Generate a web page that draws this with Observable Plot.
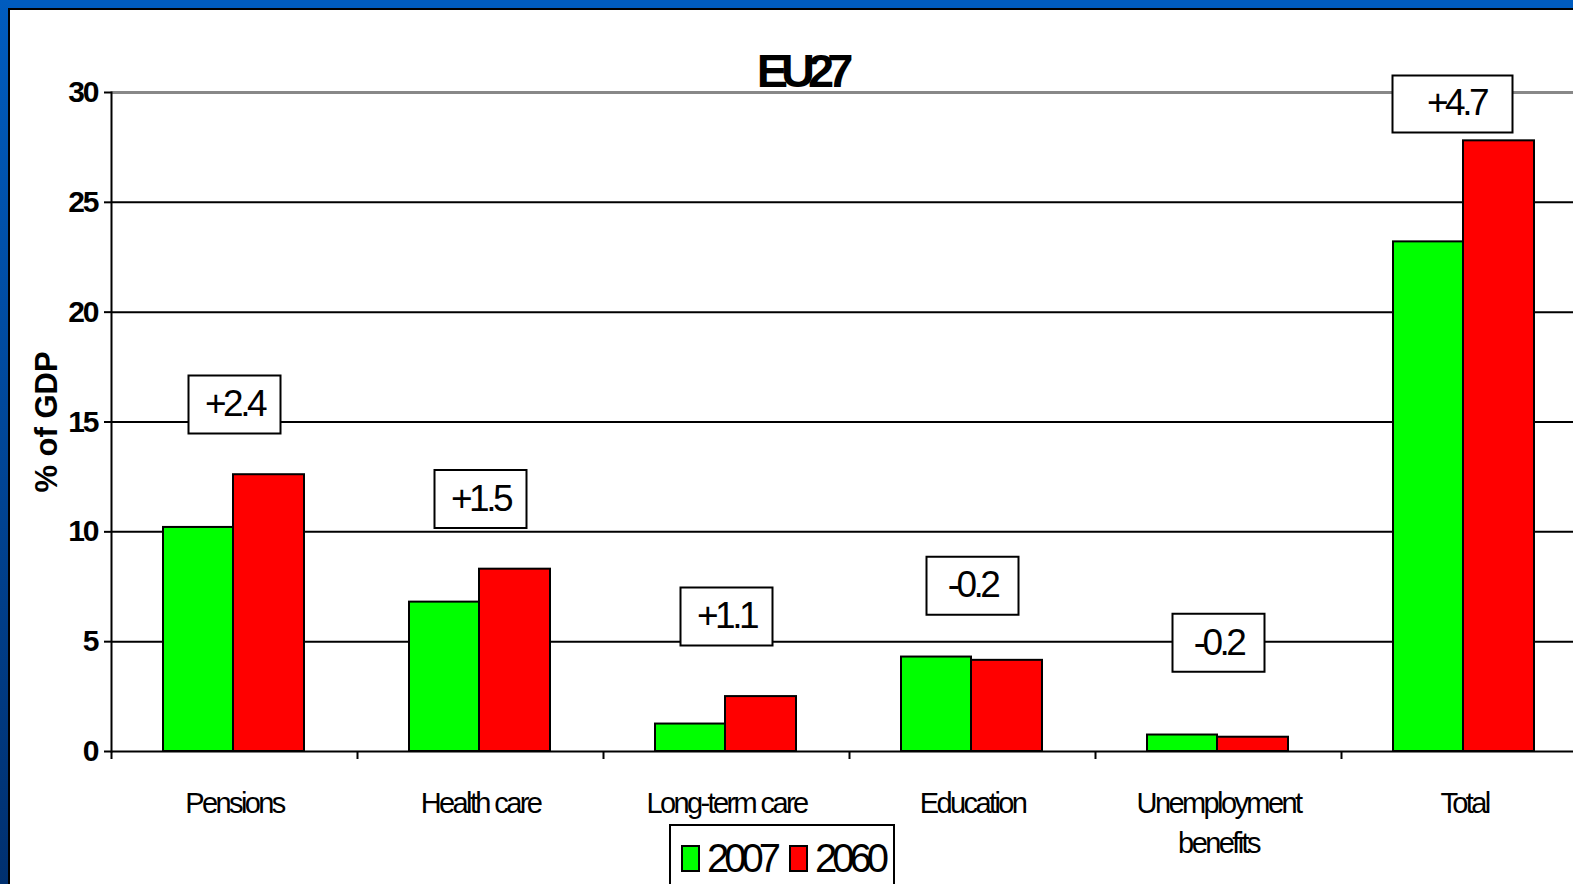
<!DOCTYPE html>
<html>
<head>
<meta charset="utf-8">
<script src="https://cdn.jsdelivr.net/npm/d3@7"></script>
<script src="https://cdn.jsdelivr.net/npm/@observablehq/plot@0.6"></script>
<style>
  html, body { margin: 0; padding: 0; overflow: hidden; background: #fff; }
  #wrap { position: relative; width: 1573px; height: 884px; overflow: hidden; font-family: "Liberation Sans", Arial, sans-serif; }
  #chart { position: absolute; left: 0; top: 0; }
  .bar-top { position: absolute; left: 0; top: 0; width: 1573px; height: 8px; background: #005cbf; z-index: 5; }
  .bar-left { position: absolute; left: 0; top: 0; width: 8px; height: 884px; background: linear-gradient(#005cbf, #003070); z-index: 5; }
  .line-top { position: absolute; left: 8px; top: 8px; width: 1565px; height: 2px; background: #000; z-index: 5; }
  .line-left { position: absolute; left: 8px; top: 8px; width: 2px; height: 876px; background: #000; z-index: 5; }
  g[aria-label="x-axis tick label"] text { letter-spacing: -2.6px; }
  g[aria-label="y-axis tick label"] text { letter-spacing: -2px; }
  g[font-size="37"] text { letter-spacing: -3.5px; }
  g[font-size="47"] text { letter-spacing: -7px; }
  #legend { position: absolute; left: 669px; top: 824px; width: 226px; height: 80px; border: 2px solid #000; background: #fff; padding: 10px 0 0 11px; box-sizing: border-box; z-index: 4; }
  #legend .lg-swatches { font-family: "Liberation Sans", Arial, sans-serif !important; font-size: 40px !important; letter-spacing: -5px; min-height: 0 !important; margin: 0 !important; display: flex !important; flex-wrap: nowrap !important; white-space: nowrap; align-items: center; }
  #legend .lg-swatch { margin-right: 14px !important; display: inline-flex; align-items: center; white-space: nowrap; }
  #legend .lg-swatch > svg { margin-right: 8px !important; overflow: visible; }
  #legend .lg-swatch > svg rect { stroke: #000; stroke-width: 2px; }
</style>
</head>
<body>
<div id="wrap">
  <div id="chart"></div>
  <div id="legend"></div>
  <div class="bar-top"></div>
  <div class="bar-left"></div>
  <div class="line-top"></div>
  <div class="line-left"></div>
</div>
<script>
const title = "EU27";
const categories = ["Pensions", "Health care", "Long-term care", "Education", "Unemployment benefits", "Total"];
const years = ["2007", "2060"];
const colors = ["#00ff00", "#ff0000"];
const values2007 = [10.2, 6.8, 1.25, 4.3, 0.75, 23.2];
const values2060 = [12.6, 8.3, 2.5, 4.15, 0.65, 27.8];
const changeLabels = ["+2.4", "+1.5", "+1.1", "-0.2", "-0.2", "+4.7"];
const changeLabelY = [15.8, 11.5, 6.15, 7.55, 4.95, 29.5];
const yTicks = [0, 5, 10, 15, 20, 25, 30];
const yLabel = "% of GDP";

const rows2007 = categories.map((c, i) => ({category: c, year: years[0], value: values2007[i]}));
const rows2060 = categories.map((c, i) => ({category: c, year: years[1], value: values2060[i]}));
const notes = categories.map((c, i) => ({category: c, label: changeLabels[i], y: changeLabelY[i]}));
const isTotal = d => d.category === "Total";

const boxSymbol = { draw(ctx) { ctx.rect(-46, -29, 92, 58); } };
const wideBoxSymbol = { draw(ctx) { ctx.rect(-60, -28, 120, 57); } };

const W = 1573, H = 884, mT = 92, mB = 133, mL = 111;
const plotH = H - mT - mB;

const chart = Plot.plot({
  width: W,
  height: H,
  marginTop: mT,
  marginBottom: mB,
  marginLeft: mL,
  marginRight: 0,
  style: { background: "transparent", fontFamily: "'Liberation Sans', Arial, sans-serif", color: "#000" },
  x: { domain: categories, range: [111, 1587], padding: 0 },
  y: { domain: [0, 30] },
  color: { domain: years, range: colors },
  marks: [
    Plot.ruleY(yTicks.filter(d => d > 0 && d < 30), { stroke: "#000", strokeWidth: 2 }),
    Plot.ruleY([30], { stroke: "#888", strokeWidth: 3 }),
    Plot.barY(rows2007, { x: "category", y: "value", fill: "year", stroke: "#000", strokeWidth: 2, insetLeft: 52, insetRight: 124 }),
    Plot.barY(rows2060, { x: "category", y: "value", fill: "year", stroke: "#000", strokeWidth: 2, insetLeft: 122, insetRight: 53 }),
    Plot.ruleY([0], { stroke: "#000", strokeWidth: 2 }),
    Plot.frame({ anchor: "left", stroke: "#000", strokeWidth: 2 }),
    Plot.ruleX(categories, { x: d => d, dx: -123, insetTop: plotH, insetBottom: -8, stroke: "#000", strokeWidth: 2 }),
    Plot.dot(notes, { filter: d => !isTotal(d), x: "category", y: "y", symbol: boxSymbol, r: 10, fill: "#fff", stroke: "#000", strokeWidth: 2 }),
    Plot.dot(notes, { filter: isTotal, x: "category", y: "y", dx: -12, symbol: wideBoxSymbol, r: 10, fill: "#fff", stroke: "#000", strokeWidth: 2 }),
    Plot.text(notes, { filter: d => !isTotal(d), x: "category", y: "y", text: "label", fontSize: 37, fill: "#000" }),
    Plot.text(notes, { filter: isTotal, x: "category", y: "y", dx: -8, text: "label", fontSize: 37, fill: "#000" }),
    Plot.axisY({ ticks: yTicks, tickSize: 7, tickPadding: 7, fontSize: 30, fontWeight: "bold", strokeWidth: 2, label: null }),
    Plot.text([yLabel], { frameAnchor: "left", textAnchor: "middle", dx: -64, rotate: -90, fontSize: 31, fontWeight: "bold", fill: "#000" }),
    Plot.axisX({ tickSize: 0, tickPadding: 33, fontSize: 29, lineHeight: 1.38, label: null,
      tickFormat: d => d.replace(" benefits", "\nbenefits") }),
    Plot.text([title], { frameAnchor: "top", dx: -41, dy: -6, lineAnchor: "bottom", fontSize: 47, fontWeight: "bold", fill: "#000" })
  ]
});
document.getElementById("chart").appendChild(chart);

const legend = Plot.legend({
  color: { domain: years, range: colors },
  legend: "swatches",
  swatchWidth: 17,
  swatchHeight: 25,
  className: "lg"
});
document.getElementById("legend").appendChild(legend);
</script>
</body>
</html>
